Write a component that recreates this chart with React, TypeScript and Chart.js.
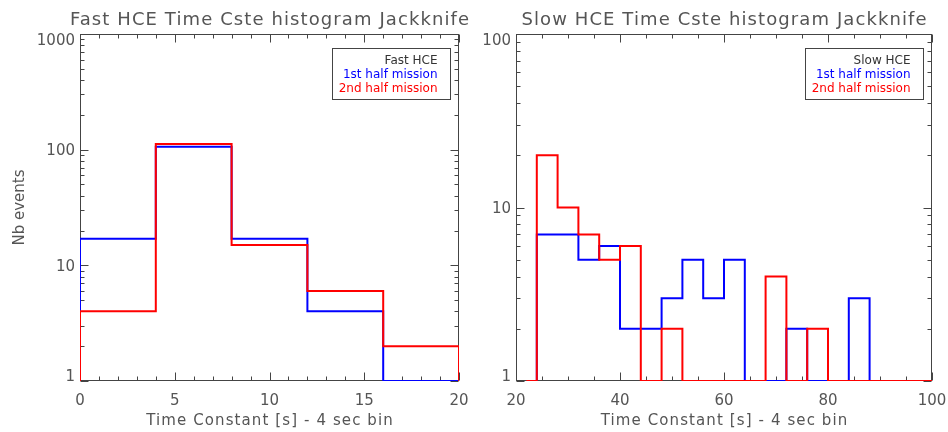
import React, { useEffect, useRef } from "react";
import { Chart, registerables } from "chart.js";

Chart.register(...registerables);

// ---------------- data ----------------
// Fast HCE: 4-second bins from 0 to 20 s
const fastBinEdges = [0, 4, 8, 12, 16, 20];
const fastFirstHalf = [17, 106, 17, 4, 1];
const fastSecondHalf = [4, 112, 15, 6, 2];

// Slow HCE: 4-second bins
const slowFirstEdges = [24, 28, 32, 36, 40, 44, 48, 52, 56, 60, 64, 68, 72, 76, 80, 84, 88];
const slowFirstHalf = [7, 7, 5, 6, 2, 2, 3, 5, 3, 5, 1, 1, 2, 1, 1, 3];
const slowSecondEdges = [24, 28, 32, 36, 40, 44, 48, 52, 56, 60, 64, 68, 72, 76, 80, 84, 88, 92, 96, 100];
const slowSecondHalf = [20, 10, 7, 5, 6, 1, 2, 1, 1, 1, 1, 4, 1, 2, 1, 1, 1, 1, 1];
const slowSecondLeadIn = 22;

// ---------------- axes ----------------
const fastXRange = [0, 20];
const fastXMajor = [0, 5, 10, 15, 20];
const fastXMinorStep = 1;
const fastYRange = [1, 1000];
const fastYMajor = [1, 10, 100, 1000];

const slowXRange = [20, 100];
const slowXMajor = [20, 40, 60, 80, 100];
const slowXMinorStep = 5;
const slowYRange = [1, 100];
const slowYMajor = [1, 10, 100];

const fastTitle = "Fast HCE Time Cste histogram Jackknife";
const slowTitle = "Slow HCE Time Cste histogram Jackknife";
const xTitle = "Time Constant [s] - 4 sec bin";
const yTitle = "Nb events";
const fastLegend = ["Fast HCE", "1st half mission", "2nd half mission"];
const slowLegend = ["Slow HCE", "1st half mission", "2nd half mission"];

// ---------------- styles ----------------
const FONT = '"DejaVu Sans", sans-serif';
const TEXT = "#555555";
const AXIS = "#444444";
const BLUE = "#0000ff";
const RED = "#ff0000";

function stepPoints(edges: number[], values: number[], floor: number, leadIn?: number) {
  const pts: { x: number; y: number }[] = [];
  pts.push({ x: leadIn !== undefined ? leadIn : edges[0], y: floor });
  values.forEach((v, i) => pts.push({ x: edges[i], y: v }));
  pts.push({ x: edges[edges.length - 1], y: floor });
  return pts;
}

function spacedText(ctx: any, text: string, x: number, y: number, spacing: number) {
  // centered text with extra letter spacing
  if ("letterSpacing" in ctx) {
    ctx.letterSpacing = `${spacing}px`;
    const w = ctx.measureText(text).width;
    const prevAlign = ctx.textAlign;
    ctx.textAlign = "left";
    ctx.fillText(text, x - (w - spacing) / 2, y);
    ctx.textAlign = prevAlign;
    ctx.letterSpacing = "0px";
  } else {
    ctx.fillText(text, x, y);
  }
}

const idlPlugin = {
  id: "idlFrame",
  beforeDatasetsDraw(chart: any, _args: any, opts: any) {
    const ctx = chart.ctx;
    const { left, right, top, bottom } = chart.chartArea;
    const xs = chart.scales.x;
    const ys = chart.scales.y;
    ctx.save();
    ctx.strokeStyle = AXIS;
    ctx.lineWidth = 1;
    const L = Math.round(left) + 0.5;
    const R = Math.round(right) - 0.5;
    const T = Math.round(top) + 0.5;
    const B = Math.round(bottom) - 0.5;
    ctx.strokeRect(L, T, R - L, B - T);
    const tickX = (v: number, len: number) => {
      const p = Math.round(xs.getPixelForValue(v)) + 0.5;
      ctx.beginPath();
      ctx.moveTo(p, B);
      ctx.lineTo(p, B - len);
      ctx.moveTo(p, T);
      ctx.lineTo(p, T + len);
      ctx.stroke();
    };
    const tickY = (v: number, len: number) => {
      const p = Math.round(ys.getPixelForValue(v)) + 0.5;
      ctx.beginPath();
      ctx.moveTo(L, p);
      ctx.lineTo(L + len, p);
      ctx.moveTo(R, p);
      ctx.lineTo(R - len, p);
      ctx.stroke();
    };
    const [x0, x1] = opts.xRange;
    for (let v = x0; v <= x1 + 1e-9; v += opts.xMinorStep) {
      if (!opts.xMajor.includes(v)) tickX(v, 4);
    }
    opts.xMajor.forEach((v: number) => tickX(v, 8));
    const [y0, y1] = opts.yRange;
    for (let d = y0; d < y1; d *= 10) {
      for (let m = 2; m <= 9; m++) tickY(d * m, 4);
    }
    opts.yMajor.forEach((v: number) => tickY(v, 8));
    ctx.restore();
  },
  afterDraw(chart: any, _args: any, opts: any) {
    const ctx = chart.ctx;
    const { left, right, top, bottom } = chart.chartArea;
    const xs = chart.scales.x;
    const ys = chart.scales.y;
    const cx = (left + right) / 2;
    ctx.save();
    ctx.fillStyle = TEXT;

    // title
    ctx.font = `18px ${FONT}`;
    ctx.textAlign = "center";
    ctx.textBaseline = "alphabetic";
    spacedText(ctx, opts.title, cx, top - 9, 1.1);

    // x tick labels
    ctx.font = `15px ${FONT}`;
    opts.xMajor.forEach((v: number) => {
      ctx.fillText(String(v), xs.getPixelForValue(v), bottom + 24);
    });
    // x title
    spacedText(ctx, opts.xTitle, cx, bottom + 44, 1.1);

    // y tick labels
    ctx.textAlign = "right";
    const dh = 5.7;
    opts.yMajor.forEach((v: number) => {
      let p = ys.getPixelForValue(v);
      p = Math.min(Math.max(p, top + dh), bottom - dh);
      ctx.fillText(String(v), left - 5, p + dh);
    });

    // y title
    if (opts.yTitle) {
      ctx.save();
      ctx.translate(24, (top + bottom) / 2);
      ctx.rotate(-Math.PI / 2);
      ctx.textAlign = "center";
      ctx.fillText(opts.yTitle, 0, 0);
      ctx.restore();
    }

    // legend box
    const bw = 118;
    const bh = 51;
    const bx = Math.round(right - 9 - bw) + 0.5;
    const by = Math.round(top + 14) + 0.5;
    ctx.strokeStyle = AXIS;
    ctx.lineWidth = 1;
    ctx.strokeRect(bx, by, bw, bh);
    ctx.font = `12px ${FONT}`;
    ctx.textAlign = "right";
    const colors = ["#333333", BLUE, RED];
    const offs = [15.5, 29.7, 43.8];
    opts.legend.forEach((t: string, i: number) => {
      ctx.fillStyle = colors[i];
      ctx.fillText(t, bx + bw - 13, by + offs[i]);
    });
    ctx.restore();
  },
};

function makeConfig(p: {
  first: { x: number; y: number }[];
  second: { x: number; y: number }[];
  xRange: number[];
  yRange: number[];
  padding: { left: number; right: number; top: number; bottom: number };
  plugin: any;
}): any {
  return {
    type: "line",
    data: {
      datasets: [
        {
          label: "2nd half mission",
          data: p.second,
          stepped: "before",
          borderColor: RED,
          borderWidth: 2,
          pointRadius: 0,
          fill: false,
        },
        {
          label: "1st half mission",
          data: p.first,
          stepped: "before",
          borderColor: BLUE,
          borderWidth: 2,
          pointRadius: 0,
          fill: false,
        },
      ],
    },
    options: {
      responsive: false,
      maintainAspectRatio: false,
      animation: false,
      devicePixelRatio: 1,
      events: [],
      layout: { padding: p.padding },
      scales: {
        x: { type: "linear", display: false, min: p.xRange[0], max: p.xRange[1] },
        y: { type: "logarithmic", display: false, min: p.yRange[0], max: p.yRange[1] },
      },
      plugins: {
        legend: { display: false },
        tooltip: { enabled: false },
        title: { display: false },
        idlFrame: p.plugin,
      },
    },
    plugins: [idlPlugin],
  };
}

function HistChart({ config }: { config: () => any }) {
  const ref = useRef<HTMLCanvasElement>(null);
  useEffect(() => {
    const chart = new Chart(ref.current as HTMLCanvasElement, config());
    return () => chart.destroy();
  }, []);
  return (
    <canvas
      ref={ref}
      width={474}
      height={432}
      style={{ display: "block", width: 474, height: 432 }}
    />
  );
}

const fastConfig = () =>
  makeConfig({
    first: stepPoints(fastBinEdges, fastFirstHalf, fastYRange[0]),
    second: stepPoints(fastBinEdges, fastSecondHalf, fastYRange[0]),
    xRange: fastXRange,
    yRange: fastYRange,
    padding: { left: 80, right: 15, top: 34, bottom: 51 },
    plugin: {
      title: fastTitle,
      xTitle,
      yTitle,
      legend: fastLegend,
      xRange: fastXRange,
      xMajor: fastXMajor,
      xMinorStep: fastXMinorStep,
      yRange: fastYRange,
      yMajor: fastYMajor,
    },
  });

const slowConfig = () =>
  makeConfig({
    first: stepPoints(slowFirstEdges, slowFirstHalf, slowYRange[0]),
    second: stepPoints(slowSecondEdges, slowSecondHalf, slowYRange[0], slowSecondLeadIn),
    xRange: slowXRange,
    yRange: slowYRange,
    padding: { left: 42, right: 16, top: 34, bottom: 51 },
    plugin: {
      title: slowTitle,
      xTitle,
      yTitle: "",
      legend: slowLegend,
      xRange: slowXRange,
      xMajor: slowXMajor,
      xMinorStep: slowXMinorStep,
      yRange: slowYRange,
      yMajor: slowYMajor,
    },
  });

export default function App() {
  return (
    <div
      style={{
        position: "absolute",
        left: 0,
        top: 0,
        width: 948,
        height: 432,
        display: "flex",
        background: "#ffffff",
      }}
    >
      <HistChart config={fastConfig} />
      <HistChart config={slowConfig} />
    </div>
  );
}
